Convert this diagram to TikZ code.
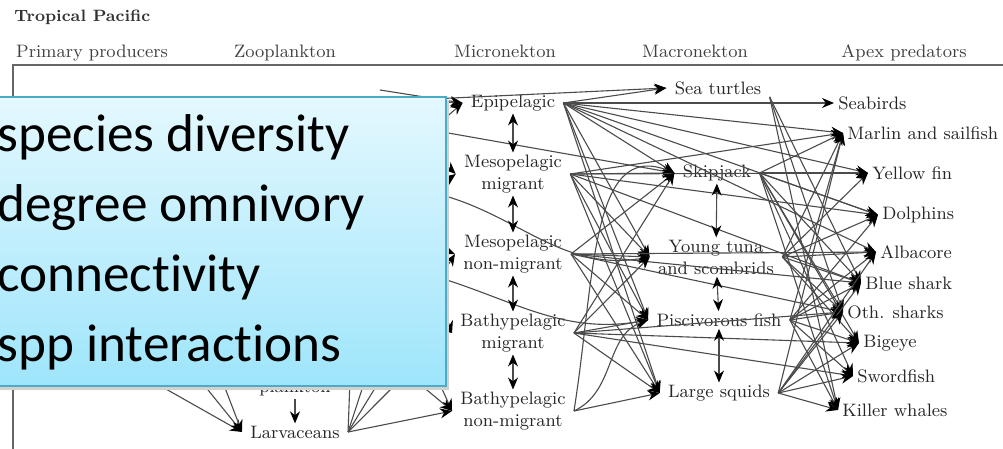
\documentclass[tikz,border=0pt]{standalone}
\usepackage{fontspec}
\newfontfamily\calibri[Ligatures={NoCommon,NoContextual}]{Carlito}
\usetikzlibrary{arrows.meta}

\definecolor{boxedge}{RGB}{75,172,198}
\definecolor{boxtop}{RGB}{228,248,254}
\definecolor{boxbot}{RGB}{158,229,251}
\definecolor{web}{RGB}{75,75,75}

\tikzset{
  taxon/.style={font=\fontsize{9}{11}\selectfont, align=center, inner xsep=4pt, inner ysep=1pt, text=black!85},
  apex/.style={taxon, anchor=west, inner xsep=2pt},
  header/.style={font=\fontsize{9}{11}\selectfont, anchor=base, inner sep=0pt, text=black!75},
  link/.style={->, draw=web, line width=0.55pt},
  feeds/.style={every edge/.style={link}},
  claim/.style={font=\calibri\fontsize{26.6}{30}\selectfont, anchor=base west, inner sep=0pt},
}

\begin{document}
\begin{tikzpicture}[x=0.5pt, y=-0.5pt, >={Stealth[length=6pt,width=5pt,color=black]}]
  \useasboundingbox (0,0) rectangle (1003,449);

  % headings and frame
  \node[font=\bfseries\fontsize{8.2}{10}\selectfont, anchor=base west, inner sep=0pt, text=black!80] (title) at (14,22) {Tropical Pacific};
  \node[header] (hprim) at (92,58) {Primary producers};
  \node[header] (hzoo) at (285,58) {Zooplankton};
  \node[header] (hmicro) at (505,58) {Micronekton};
  \node[header] (hmacro) at (695,58) {Macronekton};
  \node[header] (hapex) at (904,58) {Apex predators};
  \draw[black!60, line width=0.9pt] (13,449) -- (13,65) -- (1003,65);

  % zooplankton
  \node[taxon, anchor=base] (plankton) at (295,393) {plankton};
  \node[taxon] (larv) at (295,432) {Larvaceans};

  % micronekton
  \node[taxon] (epi) at (513,103) {Epipelagic};
  \node[taxon] (mesom) at (513,174) {Mesopelagic\\migrant};
  \node[taxon] (mesonm) at (513,254) {Mesopelagic\\non-migrant};
  \node[taxon] (bathym) at (513,333) {Bathypelagic\\migrant};
  \node[taxon] (bathynm) at (513,411) {Bathypelagic\\non-migrant};

  % macronekton
  \node[taxon] (turtles) at (718,88) {Sea turtles};
  \node[taxon] (skip) at (717,173) {Skipjack};
  \node[taxon] (young) at (716,257) {Young tuna\\and scombrids};
  \node[taxon] (pisc) at (719,320) {Piscivorous fish};
  \node[taxon] (squid) at (719,393) {Large squids};

  % apex predators
  \node[apex] (seabirds) at (834,103) {Seabirds};
  \node[apex] (marlin) at (843,133) {Marlin and sailfish};
  \node[apex] (yellow) at (868,173) {Yellow fin};
  \node[apex] (dolph) at (878,215) {Dolphins};
  \node[apex] (alba) at (876,252) {Albacore};
  \node[apex] (blue) at (861,283) {Blue shark};
  \node[apex] (oth) at (843,312) {Oth. sharks};
  \node[apex] (bigeye) at (859,343) {Bigeye};
  \node[apex] (sword) at (853,376) {Swordfish};
  \node[apex] (killer) at (838,410) {Killer whales};

  % loose ends under the panel
  \coordinate (zA) at (380,90);
  \coordinate (zT) at (410,100);
  \coordinate (zB) at (420,128);
  \coordinate (zC) at (420,140);
  \coordinate (zD) at (420,190);
  \coordinate (zE) at (420,272);
  \coordinate (zF) at (420,200);
  \coordinate (zG) at (420,240);
  \coordinate (zH) at (420,310);
  \coordinate (zI) at (150,380);
  \coordinate (zJ) at (200,380);
  \coordinate (zK) at (222,380);
  \coordinate (zL) at (350,380);
  \coordinate (zM) at (365,380);
  \coordinate (zN) at (380,380);
  \coordinate (zO) at (400,380);
  \coordinate (zP) at (415,380);
  \coordinate (zQ) at (438,380);

  % feeding links
  \path[feeds] (zA) edge (epi.west) (zT) edge (turtles.west) edge (epi.west);
  \path[feeds] (zB) edge (skip.west) (zC) edge (epi.west) edge (mesom.west);
  \path[feeds] (zD) edge[out=-10, in=190] (young.west) (zF) edge (mesom.west);
  \path[feeds] (zE) edge[out=-15, in=190] (pisc.west) (zG) edge (mesonm.west) edge (bathym.west);
  \path[feeds] (zH) edge (bathym.west) edge (mesonm.west);
  \path[feeds] (zI) edge (larv.west) (zJ) edge (larv.west) (zK) edge (larv.west);
  \path[feeds] (larv.east) edge[-] (zL) edge[-] (zM) edge[-] (zN) edge[-] (zO);
  \path[feeds] (larv.east) edge (bathynm.west) (zP) edge (bathynm.west) (zQ) edge (bathynm.west);

  \path[feeds] (epi.east) edge (turtles.west) edge (seabirds.west) edge (marlin.west) edge (yellow.west)
    edge (dolph.west) edge (alba.west) edge (skip.west) edge (young.west) edge (pisc.west) edge (squid.west);
  \path[feeds] (mesom.east) edge (skip.west) edge (young.west) edge (pisc.west) edge (squid.west)
    edge (marlin.west) edge (yellow.west) edge (dolph.west) edge (blue.west);
  \path[feeds] (mesonm.east) edge (skip.west) edge (young.west) edge (pisc.west) edge (squid.west)
    edge (alba.west) edge (blue.west) edge (oth.west);
  \path[feeds] (bathym.east) edge (skip.west) edge (young.west) edge (pisc.west) edge (squid.west)
    edge (bigeye.west) edge (sword.west) edge (oth.west);
  \path[feeds] (bathynm.east) edge (squid.west) edge[out=25, in=200] (pisc.west);
  \draw[link] (bathynm.east) .. controls (595,280) and (590,140) .. (skip.west);

  \path[feeds] (turtles.south east) edge (oth.west) edge (killer.west) edge (blue.west);
  \path[feeds] (skip.east) edge (marlin.west) edge (yellow.west) edge (dolph.west) edge (blue.west)
    edge (oth.west) edge (bigeye.west) edge (sword.west) edge (killer.west);
  \path[feeds] (young.east) edge (marlin.west) edge (yellow.west) edge (dolph.west) edge (alba.west)
    edge (blue.west) edge (oth.west) edge (bigeye.west);
  \path[feeds] (pisc.east) edge (marlin.west) edge (dolph.west) edge (alba.west) edge (blue.west)
    edge (oth.west) edge (bigeye.west) edge (sword.west) edge (killer.west);
  \path[feeds] (squid.east) edge (marlin.west) edge (alba.west) edge (blue.west) edge (oth.west)
    edge (bigeye.west) edge (sword.west) edge (killer.west);

  % within-guild links
  \draw[link, <->] (epi) -- (mesom);
  \draw[link, <->] (mesom) -- (mesonm);
  \draw[link, <->] (mesonm) -- (bathym);
  \draw[link, <->] (bathym) -- (bathynm);
  \draw[link, <->] (skip) -- (young);
  \draw[link, <->] (young) -- (pisc);
  \draw[link, <->] (pisc) -- (squid);
  \draw[link] (plankton) -- (larv);

  % overlaid panel
  \fill[black!18] (-20,100) rectangle (449,390);
  \shadedraw[top color=boxtop, bottom color=boxbot, draw=boxedge, line width=1pt] (-20,97) rectangle (446,386);
  \node[claim] (c1) at (-3,152) {species diversity};
  \node[claim] (c2) at (-3,222) {degree omnivory};
  \node[claim] (c3) at (-3,292) {connectivity};
  \node[claim] (c4) at (-3,362) {spp interactions};
\end{tikzpicture}
\end{document}
